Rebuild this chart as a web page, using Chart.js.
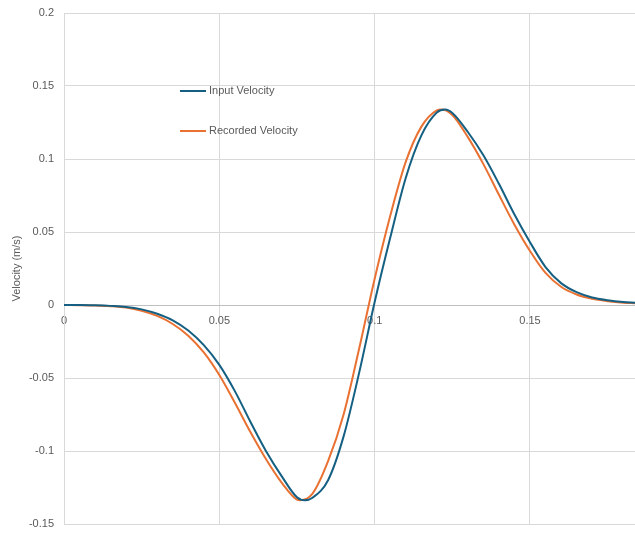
<!DOCTYPE html>
<html>
<head>
<meta charset="utf-8">
<script src="https://cdn.jsdelivr.net/npm/chart.js@4.4.1/dist/chart.umd.min.js"></script>
<style>
  html, body { margin: 0; padding: 0; background: #ffffff; }
  #wrap { width: 635px; height: 538px; }
</style>
</head>
<body>
<div id="wrap"><canvas id="chart" width="635" height="538"></canvas></div>
<script>
// values
const inputTime = [0, 0.005, 0.01, 0.015, 0.02, 0.025, 0.03, 0.035, 0.04, 0.045, 0.05, 0.055, 0.06, 0.065, 0.07, 0.075, 0.0775, 0.08, 0.085, 0.09, 0.095, 0.1, 0.105, 0.11, 0.115, 0.12, 0.1227, 0.125, 0.13, 0.135, 0.14, 0.145, 0.15, 0.155, 0.16, 0.165, 0.17, 0.175, 0.18, 0.1838];
const inputVelocity = [0, 0, -0.0002, -0.0006, -0.0013, -0.003, -0.006, -0.0105, -0.0175, -0.0275, -0.041, -0.059, -0.08, -0.1, -0.117, -0.1317, -0.1337, -0.132, -0.12, -0.09, -0.0465, 0.002, 0.046, 0.087, 0.116, 0.1318, 0.1339, 0.1315, 0.1185, 0.1025, 0.083, 0.062, 0.043, 0.026, 0.015, 0.0088, 0.0052, 0.0033, 0.0021, 0.0016];

const recordedTime = [0, 0.005, 0.01, 0.015, 0.02, 0.025, 0.03, 0.035, 0.04, 0.045, 0.05, 0.055, 0.06, 0.065, 0.07, 0.075, 0.076, 0.08, 0.085, 0.09, 0.095, 0.1, 0.105, 0.11, 0.115, 0.12, 0.1215, 0.125, 0.13, 0.135, 0.14, 0.145, 0.15, 0.155, 0.16, 0.165, 0.17, 0.175, 0.18, 0.1838];
const recordedVelocity = [0, -0.0001, -0.0003, -0.0008, -0.0018, -0.004, -0.0075, -0.013, -0.021, -0.0325, -0.048, -0.067, -0.087, -0.1055, -0.1215, -0.1333, -0.1337, -0.1292, -0.107, -0.075, -0.030, 0.018, 0.061, 0.098, 0.122, 0.1333, 0.1339, 0.1302, 0.115, 0.0965, 0.0755, 0.055, 0.037, 0.022, 0.0125, 0.0072, 0.0042, 0.0026, 0.0016, 0.0012];

const xTickStep = 0.05;
const yTickStep = 0.05;
const xRange = [0, 0.1838];
const yRange = [-0.15, 0.2];

const FONT = "'Liberation Sans', Arial, sans-serif";
const TEXT = '#595959';
const GRID = '#d9d9d9';

function toPoints(xs, ys) {
  return xs.map((x, i) => ({ x: x, y: ys[i] }));
}

// legend drawn inside the plot area, like the original
const innerLegend = {
  id: 'innerLegend',
  afterDraw(chart) {
    const ctx = chart.ctx;
    ctx.save();
    ctx.font = '11px ' + FONT;
    ctx.textBaseline = 'middle';
    ctx.textAlign = 'left';
    chart.data.datasets.forEach((ds, i) => {
      const y = 91 + i * 40;
      ctx.strokeStyle = ds.borderColor;
      ctx.lineWidth = 2;
      ctx.beginPath();
      ctx.moveTo(180, y);
      ctx.lineTo(206, y);
      ctx.stroke();
      ctx.fillStyle = TEXT;
      ctx.fillText(ds.label, 209, y);
    });
    ctx.restore();
  }
};

new Chart(document.getElementById('chart'), {
  type: 'line',
  data: {
    datasets: [{
      label: 'Input Velocity',
      data: toPoints(inputTime, inputVelocity),
      borderColor: '#156082',
      backgroundColor: '#156082',
      borderWidth: 2,
      pointRadius: 0,
      fill: false,
      cubicInterpolationMode: 'monotone'
    }, {
      label: 'Recorded Velocity',
      data: toPoints(recordedTime, recordedVelocity),
      borderColor: '#E97132',
      backgroundColor: '#E97132',
      borderWidth: 2,
      pointRadius: 0,
      fill: false,
      cubicInterpolationMode: 'monotone'
    }]
  },
  options: {
    responsive: false,
    animation: false,
    layout: { padding: { top: 13, bottom: 14, left: 0, right: 0 } },
    scales: {
      x: {
        type: 'linear',
        min: xRange[0],
        max: xRange[1],
        position: { y: 0 },
        ticks: {
          stepSize: xTickStep,
          includeBounds: false,
          padding: 9,
          color: TEXT,
          font: { family: FONT, size: 11 },
          maxRotation: 0,
          callback: (v) => String(Number(v.toFixed(2)))
        },
        grid: { color: GRID, drawTicks: false },
        border: { color: '#bfbfbf', width: 1 }
      },
      y: {
        min: yRange[0],
        max: yRange[1],
        ticks: {
          stepSize: yTickStep,
          padding: 10,
          color: TEXT,
          font: { family: FONT, size: 11 },
          callback: (v) => String(Number(v.toFixed(2)))
        },
        grid: { color: GRID, drawTicks: false },
        border: { color: GRID, width: 1 },
        title: {
          display: true,
          text: 'Velocity (m/s)',
          color: TEXT,
          font: { family: FONT, size: 11 },
          padding: { top: 10, bottom: 0 }
        },
        afterFit: (scale) => {
          scale.width = 64;
          scale.paddingTop = 0;
          scale.paddingBottom = 0;
        }
      }
    },
    plugins: {
      legend: { display: false },
      tooltip: { enabled: false }
    }
  },
  plugins: [innerLegend]
});
</script>
</body>
</html>
